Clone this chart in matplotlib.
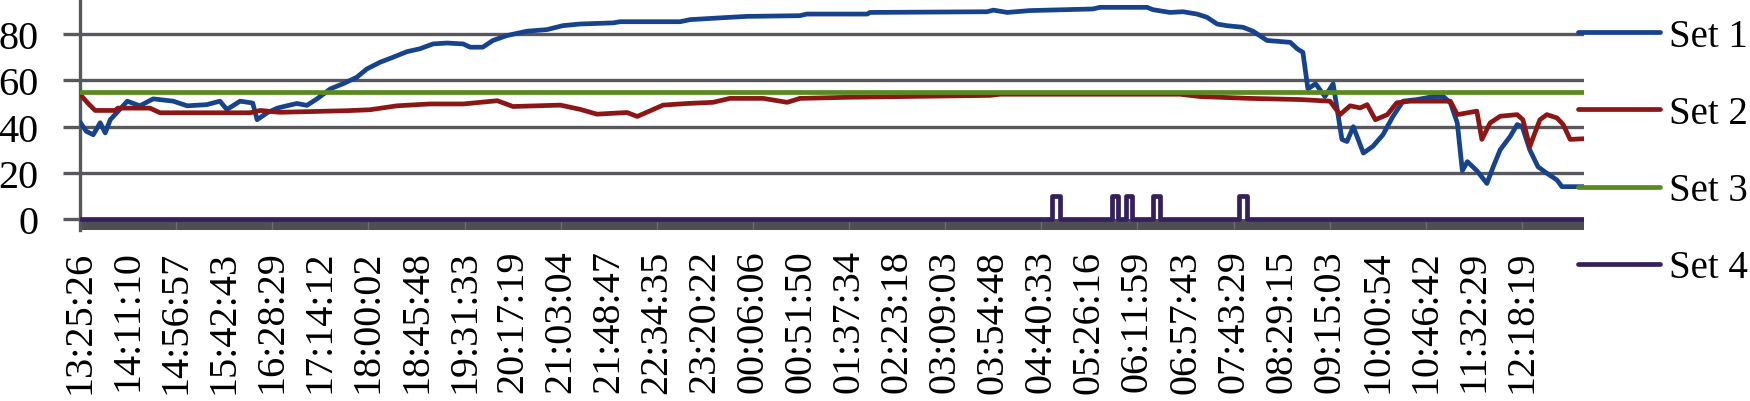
from datetime import datetime

import matplotlib.pyplot as plt

# ======================
# data (x = hours since 13:25:26)
# ======================
time_labels = [
    "13:25:26", "14:11:10", "14:56:57", "15:42:43", "16:28:29", "17:14:12",
    "18:00:02", "18:45:48", "19:31:33", "20:17:19", "21:03:04", "21:48:47",
    "22:34:35", "23:20:22", "00:06:06", "00:51:50", "01:37:34", "02:23:18",
    "03:09:03", "03:54:48", "04:40:33", "05:26:16", "06:11:59", "06:57:43",
    "07:43:29", "08:29:15", "09:15:03", "10:00:54", "10:46:42", "11:32:29",
    "12:18:19",
]

set1_hours = [
    0.00, 0.10, 0.21, 0.32, 0.40, 0.48, 0.63, 0.75, 0.95, 1.16, 1.48, 1.70,
    2.01, 2.22, 2.33, 2.54, 2.74, 2.81, 2.97, 3.13, 3.28, 3.44, 3.60, 3.76,
    3.97, 4.17, 4.39, 4.55, 4.76, 4.97, 5.19, 5.39, 5.60, 5.82, 6.08, 6.19,
    6.39, 6.55, 6.77, 7.09, 7.41, 7.66, 7.93, 8.46, 8.57, 9.52, 9.68, 10.31,
    10.58, 11.42, 11.53, 12.49, 12.53, 14.39, 14.49, 14.71, 15.07, 16.07,
    16.18, 16.93, 17.02, 17.29, 17.50, 17.72, 17.88, 18.04, 18.19, 18.45,
    18.61, 18.83, 19.20, 19.31, 19.40, 19.48, 19.60, 19.63, 19.75, 19.88,
    20.02, 20.10, 20.20, 20.36, 20.51, 20.67, 20.83, 20.99, 21.21, 21.47,
    21.63, 21.74, 21.85, 21.93, 22.01, 22.16, 22.32, 22.42, 22.53, 22.69,
    22.80, 22.88, 23.00, 23.13, 23.27, 23.43, 23.51, 23.86,
]
set1_values = [
    42, 38, 36.5, 41.7, 37.3, 43, 47.4, 51, 49, 52, 51, 49,
    49.5, 51, 47.4, 51, 50.2, 43, 46, 48, 49, 50, 49.2, 52,
    56.3, 58.5, 61.3, 64.9, 67.8, 70, 72.4, 73.6, 75.7, 76.1, 75.7, 74.3,
    74.3, 77.2, 79.3, 81.2, 81.9, 83.6, 84.3, 84.8, 85.3, 85.3, 86.2, 87.2,
    87.6, 87.9, 88.6, 88.6, 89.3, 89.6, 90.3, 89.3, 90.1, 90.8,
    91.5, 91.5, 90.5, 89.3, 89.6, 88.6, 87.2, 84.3, 83.6, 82.9,
    81.2, 77.2, 76.4, 73.6, 72.1, 56.3, 58.5, 57.5, 53, 58.5,
    34.5, 33.6, 40, 28.6, 31.5, 36.5, 44.5, 51, 51.7, 53,
    53, 50.3, 41.6, 21, 24.9, 21, 15.5, 22.7, 30, 35.8,
    40.9, 40, 30, 22.7, 19.9, 17, 14.1, 14.1,
]

set2_hours = [
    0.00, 0.13, 0.24, 0.56, 0.60, 1.11, 1.27, 2.70, 2.86, 3.17, 4.24, 4.60,
    5.03, 5.55, 6.08, 6.62, 6.87, 7.62, 7.93, 8.20, 8.68, 8.84, 9.25, 9.63,
    10.04, 10.31, 10.84, 11.22, 11.42, 12.22, 14.44, 14.60, 17.45, 17.77,
    18.56, 19.36, 19.83, 19.99, 20.15, 20.31, 20.42, 20.55, 20.74, 20.89,
    21.10, 21.74, 21.85, 22.16, 22.24, 22.37, 22.53, 22.80, 22.89, 23.00,
    23.16, 23.27, 23.43, 23.53, 23.64, 23.86,
]
set2_values = [
    54, 50, 47, 47, 48, 48, 46, 46, 47, 46.2, 46.9, 47.3,
    49, 49.8, 49.8, 51.2, 48.7, 49.3, 47.5, 45.4, 46.1, 44.4, 49.3, 50,
    50.5, 52.2, 52.2, 50.5, 52.2, 52.7, 53.5, 54, 54, 53,
    52.2, 51.7, 51, 45.2, 49, 48.1, 49.5, 43, 45.2, 50.3,
    51, 51, 45.2, 46.7, 34.5, 41.6, 44.5, 45.2, 43, 31.4,
    43, 45.2, 43.8, 40.9, 34.5, 34.8,
]

set3_hours = [0.00, 23.86]
set3_values = [55, 55]

# Set 4 sits at 0 with short pulses up to 10
set4_pulse_start = [15.42, 16.37, 16.60, 17.02, 18.39]
set4_pulse_end = [15.55, 16.47, 16.69, 17.13, 18.51]
set4_base = 0
set4_peak = 10
set4_end_hour = 23.86

# ======================
# build the step line for Set 4
# ======================
set4_hours = [0.0]
set4_values = [set4_base]
for a, b in zip(set4_pulse_start, set4_pulse_end):
    set4_hours += [a, a, b, b]
    set4_values += [set4_base, set4_peak, set4_peak, set4_base]
set4_hours.append(set4_end_hour)
set4_values.append(set4_base)

# tick positions from the label times
t0 = datetime.strptime(time_labels[0], "%H:%M:%S")
tick_pos = []
for s in time_labels:
    d = (datetime.strptime(s, "%H:%M:%S") - t0).total_seconds() % 86400
    tick_pos.append(d / 3600)

# ======================
# plot
# ======================
plt.rcParams['font.family'] = ['Liberation Serif', 'DejaVu Serif']

W, H = 1750, 402
fig = plt.figure(figsize=(W / 100, H / 100), dpi=100)
ax = fig.add_axes([80 / W, 1 - 231 / H, (1584 - 80) / W, 231 / H])

ymin, ymax = -4.6, 95.1
ax.set_ylim(ymin, ymax)
ax.set_xlim(0, set4_end_hour)

grid_col = '#58585c'
ax.axhspan(ymin, 0, color='#4e4e54', lw=0, zorder=1)
ax.vlines(tick_pos[2::2], ymin, 0, color='#6c6c72', lw=1, zorder=1.5)
for g in [20, 40, 60, 80]:
    ax.axhline(g, color=grid_col, lw=2.4, zorder=1)

lw = 3.4
kw = dict(lw=lw, solid_capstyle='round', solid_joinstyle='round', zorder=3)
l1, = ax.plot(set1_hours, set1_values, color='#17428c', label='Set 1', **kw)
l2, = ax.plot(set2_hours, set2_values, color='#8c1616', label='Set 2', **kw)
l3, = ax.plot(set3_hours, set3_values, color='#5a8a1e', label='Set 3', **kw)
l4, = ax.plot(set4_hours, set4_values, color='#36205c', label='Set 4', **kw)

for sp in ['top', 'right', 'bottom']:
    ax.spines[sp].set_visible(False)
ax.spines['left'].set_color(grid_col)
ax.spines['left'].set_linewidth(2.4)

ax.set_yticks([0, 20, 40, 60, 80])
ax.tick_params(axis='y', length=12, width=2.4, color=grid_col,
               labelsize=29, pad=18)
ax.set_xticks(tick_pos)
ax.set_xticklabels(time_labels, rotation=90, fontsize=29)
ax.tick_params(axis='x', length=0, pad=14)

ax.legend(handles=[l1, l2, l3, l4], loc='upper left',
          bbox_to_anchor=(1578 / W, 1 - 19 / H),
          bbox_transform=fig.transFigure, frameon=False, fontsize=28,
          handlelength=2.1, handletextpad=0.25, labelspacing=1.03,
          borderpad=0, borderaxespad=0)

fig.savefig('out.png', dpi=100)
